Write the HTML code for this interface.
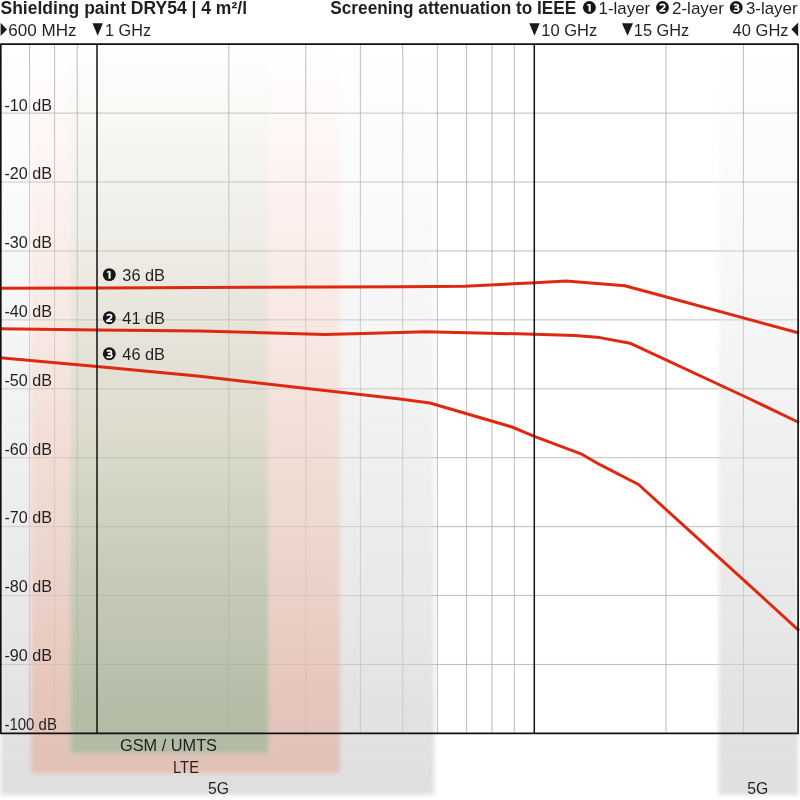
<!DOCTYPE html>
<html><head><meta charset="utf-8"><title>Shielding paint DRY54</title>
<style>
html,body{margin:0;padding:0;background:#fff;}
body{width:800px;height:800px;overflow:hidden;font-family:"Liberation Sans",sans-serif;}
svg{display:block;}
text{font-family:"Liberation Sans",sans-serif;fill:#231f20;}
.b{font-weight:bold;}
</style></head><body>
<svg width="800" height="800" viewBox="0 0 800 800">
<defs>
<linearGradient id="g5" gradientUnits="userSpaceOnUse" x1="0" y1="44" x2="0" y2="798"><stop offset="0" stop-color="rgb(236,236,236)" stop-opacity="0"/><stop offset="0.2069" stop-color="rgb(236,236,236)" stop-opacity="0.264"/><stop offset="0.5066" stop-color="rgb(224,224,224)" stop-opacity="0.452"/><stop offset="0.8700" stop-color="rgb(210,210,210)" stop-opacity="0.625"/><stop offset="1.0000" stop-color="rgb(206,206,206)" stop-opacity="0.650"/></linearGradient>
<linearGradient id="glte" gradientUnits="userSpaceOnUse" x1="0" y1="44" x2="0" y2="775"><stop offset="0" stop-color="rgb(247,218,210)" stop-opacity="0"/><stop offset="0.2189" stop-color="rgb(247,218,210)" stop-opacity="0.379"/><stop offset="0.5198" stop-color="rgb(236,206,195)" stop-opacity="0.637"/><stop offset="0.6922" stop-color="rgb(231,201,188)" stop-opacity="0.757"/><stop offset="0.8974" stop-color="rgb(226,189,178)" stop-opacity="0.884"/><stop offset="1.0000" stop-color="rgb(223,187,176)" stop-opacity="0.920"/></linearGradient>
<linearGradient id="ggsm" gradientUnits="userSpaceOnUse" x1="0" y1="44" x2="0" y2="755"><stop offset="0" stop-color="rgb(218,215,199)" stop-opacity="0"/><stop offset="0.2194" stop-color="rgb(218,215,199)" stop-opacity="0.373"/><stop offset="0.3643" stop-color="rgb(212,206,190)" stop-opacity="0.506"/><stop offset="0.5288" stop-color="rgb(203,201,178)" stop-opacity="0.633"/><stop offset="0.7117" stop-color="rgb(184,190,164)" stop-opacity="0.757"/><stop offset="0.9226" stop-color="rgb(172,181,157)" stop-opacity="0.884"/><stop offset="1.0000" stop-color="rgb(171,181,156)" stop-opacity="0.920"/></linearGradient>
<filter id="bl" x="-5%" y="-5%" width="110%" height="110%" color-interpolation-filters="sRGB"><feGaussianBlur stdDeviation="2.2"/></filter>
<clipPath id="c5"><path clip-rule="evenodd" d="M-20,0H460V820H-20Z M31,0H340V773.5H31Z"/></clipPath>
<clipPath id="clte"><path clip-rule="evenodd" d="M-20,0H460V820H-20Z M70.5,0H268.3V753.3H70.5Z"/></clipPath>
</defs>
<rect width="800" height="800" fill="#fff"/>

<g stroke="#a6a6a6" stroke-width="0.75" fill="none">
<line x1="29.56" y1="44.2" x2="29.56" y2="733.4"/>
<line x1="54.60" y1="44.2" x2="54.60" y2="733.4"/>
<line x1="77.26" y1="44.2" x2="77.26" y2="733.4"/>
<line x1="228.81" y1="44.2" x2="228.81" y2="733.4"/>
<line x1="305.77" y1="44.2" x2="305.77" y2="733.4"/>
<line x1="360.37" y1="44.2" x2="360.37" y2="733.4"/>
<line x1="402.72" y1="44.2" x2="402.72" y2="733.4"/>
<line x1="437.33" y1="44.2" x2="437.33" y2="733.4"/>
<line x1="466.59" y1="44.2" x2="466.59" y2="733.4"/>
<line x1="491.93" y1="44.2" x2="491.93" y2="733.4"/>
<line x1="514.29" y1="44.2" x2="514.29" y2="733.4"/>
<line x1="666.00" y1="44.2" x2="666.00" y2="733.4"/>
<line x1="743.40" y1="44.2" x2="743.40" y2="733.4"/>
</g><g stroke="#a8a8a8" stroke-width="0.75" fill="none">
<line x1="0.8" y1="113.12" x2="798.1" y2="113.12"/>
<line x1="0.8" y1="182.04" x2="798.1" y2="182.04"/>
<line x1="0.8" y1="250.96" x2="798.1" y2="250.96"/>
<line x1="0.8" y1="319.88" x2="798.1" y2="319.88"/>
<line x1="0.8" y1="388.80" x2="798.1" y2="388.80"/>
<line x1="0.8" y1="457.72" x2="798.1" y2="457.72"/>
<line x1="0.8" y1="526.64" x2="798.1" y2="526.64"/>
<line x1="0.8" y1="595.56" x2="798.1" y2="595.56"/>
<line x1="0.8" y1="664.48" x2="798.1" y2="664.48"/>
</g>
<g filter="url(#bl)">
<rect x="0.5" y="40" width="433.9" height="755" fill="url(#g5)" clip-path="url(#c5)"/>
<rect x="718.7" y="40" width="79.5" height="755" fill="url(#g5)"/>
<rect x="31" y="40" width="309" height="733.5" fill="url(#glte)" clip-path="url(#clte)"/>
<rect x="70.5" y="40" width="197.8" height="713.3" fill="url(#ggsm)"/>
</g>

<g stroke="#df2810" stroke-width="3.0" fill="none" stroke-linejoin="round">
<polyline points="0,288.3 97,287.9 200,287.4 400,286.7 465,286.2 535,282.7 566,281 600,283.8 625,285.8 799,333"/>
<polyline points="0,328.7 97,330 200,331 325,334.5 400,332.5 425,331.8 535,334.2 575,335.5 600,337.6 630,343.2 750,399 799,422.5"/>
<polyline points="0,357.8 97,366.5 200,376.3 400,399 430,403 512,427 535,436.7 581,453.8 600,464.7 638.6,484.5 765.6,600 799,630.6"/>
</g>
<g stroke="#111" fill="none"><rect x="0.8" y="44.2" width="797.3000000000001" height="689.1999999999999" stroke-width="1.7" stroke-linejoin="round"/>
<line x1="97.0" y1="44.2" x2="97.0" y2="733.4" stroke-width="1.5"/>
<line x1="534.3" y1="44.2" x2="534.3" y2="733.4" stroke-width="1.5"/></g>
<text x="0.5" y="13.5" font-size="17.6" textLength="246.5" lengthAdjust="spacingAndGlyphs" class="b">Shielding paint DRY54 | 4 m²/l</text>
<text x="330.3" y="13.5" font-size="17.6" textLength="246" lengthAdjust="spacingAndGlyphs" class="b">Screening attenuation to IEEE</text>
<circle cx="589.4" cy="7.5" r="6.45" fill="#161616"/><g transform="translate(589.4,7.8)" stroke="#fff" fill="none" stroke-linejoin="round"><path d="M0.25,-3.75V3.75" stroke-width="2.1"/><path d="M-0.6,-3.6L-2.4,-2.3" stroke-width="1.25"/></g>
<text x="598.6" y="13.9" font-size="17" textLength="51.6" lengthAdjust="spacingAndGlyphs">1-layer</text>
<circle cx="662.5" cy="7.5" r="6.45" fill="#161616"/><g transform="translate(662.5,7.8)" stroke="#fff" fill="none" stroke-linejoin="round"><path d="M-2.5,-2.3C-1.8,-3.7 2.3,-3.9 2.3,-1.55C2.3,0.1 -0.6,1.2 -2.5,3.0H2.9" stroke-width="1.75"/></g>
<text x="672" y="13.9" font-size="17" textLength="52" lengthAdjust="spacingAndGlyphs">2-layer</text>
<circle cx="736.2" cy="7.5" r="6.45" fill="#161616"/><g transform="translate(736.2,7.8)" stroke="#fff" fill="none" stroke-linejoin="round"><path d="M-2.4,-2.7C-1,-3.7 2.2,-3.6 2.2,-1.7C2.2,-0.3 0.8,-0.1 -0.8,-0.1C0.9,-0.1 2.6,0.2 2.6,1.7C2.6,3.7 -1.2,3.8 -2.7,2.8" stroke-width="1.75"/></g>
<text x="746" y="13.9" font-size="17" textLength="51.5" lengthAdjust="spacingAndGlyphs">3-layer</text>
<g fill="#1a1a1a">
<polygon points="0.6,22.8 0.6,36 7,29.4"/>
<polygon points="92.5,23.2 102.9,23.2 97.7,35.8"/>
<polygon points="529.3,23.2 539.7,23.2 534.5,35.8"/>
<polygon points="622,23.2 633,23.2 627.5,35.8"/>
<polygon points="798.2,22.5 798.2,36.4 791.3,29.3"/>
</g>
<text x="8.3" y="35.7" font-size="16.8" textLength="68.3" lengthAdjust="spacingAndGlyphs">600 MHz</text>
<text x="105" y="35.7" font-size="16.8" textLength="46" lengthAdjust="spacingAndGlyphs">1 GHz</text>
<text x="541.3" y="35.7" font-size="16.8" textLength="56" lengthAdjust="spacingAndGlyphs">10 GHz</text>
<text x="633.8" y="35.7" font-size="16.8" textLength="55.5" lengthAdjust="spacingAndGlyphs">15 GHz</text>
<text x="732.6" y="35.7" font-size="16.8" textLength="56" lengthAdjust="spacingAndGlyphs">40 GHz</text>
<text x="4.4" y="110.5" font-size="17" textLength="47.6" lengthAdjust="spacingAndGlyphs">-10 dB</text>
<text x="4.4" y="179.3" font-size="17" textLength="47.6" lengthAdjust="spacingAndGlyphs">-20 dB</text>
<text x="4.4" y="248.1" font-size="17" textLength="47.6" lengthAdjust="spacingAndGlyphs">-30 dB</text>
<text x="4.4" y="316.9" font-size="17" textLength="47.6" lengthAdjust="spacingAndGlyphs">-40 dB</text>
<text x="4.4" y="385.7" font-size="17" textLength="47.6" lengthAdjust="spacingAndGlyphs">-50 dB</text>
<text x="4.4" y="454.5" font-size="17" textLength="47.6" lengthAdjust="spacingAndGlyphs">-60 dB</text>
<text x="4.4" y="523.3" font-size="17" textLength="47.6" lengthAdjust="spacingAndGlyphs">-70 dB</text>
<text x="4.4" y="592.1" font-size="17" textLength="47.6" lengthAdjust="spacingAndGlyphs">-80 dB</text>
<text x="4.4" y="660.9" font-size="17" textLength="47.6" lengthAdjust="spacingAndGlyphs">-90 dB</text>
<text x="4.4" y="729.7" font-size="17" textLength="52.5" lengthAdjust="spacingAndGlyphs">-100 dB</text>
<circle cx="109.3" cy="274.6" r="6.45" fill="#161616"/><g transform="translate(109.3,274.90000000000003)" stroke="#fff" fill="none" stroke-linejoin="round"><path d="M0.25,-3.75V3.75" stroke-width="2.1"/><path d="M-0.6,-3.6L-2.4,-2.3" stroke-width="1.25"/></g>
<text x="122.3" y="280.90000000000003" font-size="17" textLength="42.7" lengthAdjust="spacingAndGlyphs">36 dB</text>
<circle cx="109.3" cy="317.7" r="6.45" fill="#161616"/><g transform="translate(109.3,318.0)" stroke="#fff" fill="none" stroke-linejoin="round"><path d="M-2.5,-2.3C-1.8,-3.7 2.3,-3.9 2.3,-1.55C2.3,0.1 -0.6,1.2 -2.5,3.0H2.9" stroke-width="1.75"/></g>
<text x="122.3" y="324.0" font-size="17" textLength="42.7" lengthAdjust="spacingAndGlyphs">41 dB</text>
<circle cx="109.3" cy="353.7" r="6.45" fill="#161616"/><g transform="translate(109.3,354.0)" stroke="#fff" fill="none" stroke-linejoin="round"><path d="M-2.4,-2.7C-1,-3.7 2.2,-3.6 2.2,-1.7C2.2,-0.3 0.8,-0.1 -0.8,-0.1C0.9,-0.1 2.6,0.2 2.6,1.7C2.6,3.7 -1.2,3.8 -2.7,2.8" stroke-width="1.75"/></g>
<text x="122.3" y="360.0" font-size="17" textLength="42.7" lengthAdjust="spacingAndGlyphs">46 dB</text>
<text x="120" y="751.2" font-size="16.8" textLength="97" lengthAdjust="spacingAndGlyphs">GSM / UMTS</text>
<text x="173" y="772.6" font-size="16.8" textLength="26" lengthAdjust="spacingAndGlyphs">LTE</text>
<text x="208" y="793.7" font-size="16.8" textLength="21" lengthAdjust="spacingAndGlyphs">5G</text>
<text x="747.3" y="793.7" font-size="16.8" textLength="21" lengthAdjust="spacingAndGlyphs">5G</text>
</svg></body></html>
